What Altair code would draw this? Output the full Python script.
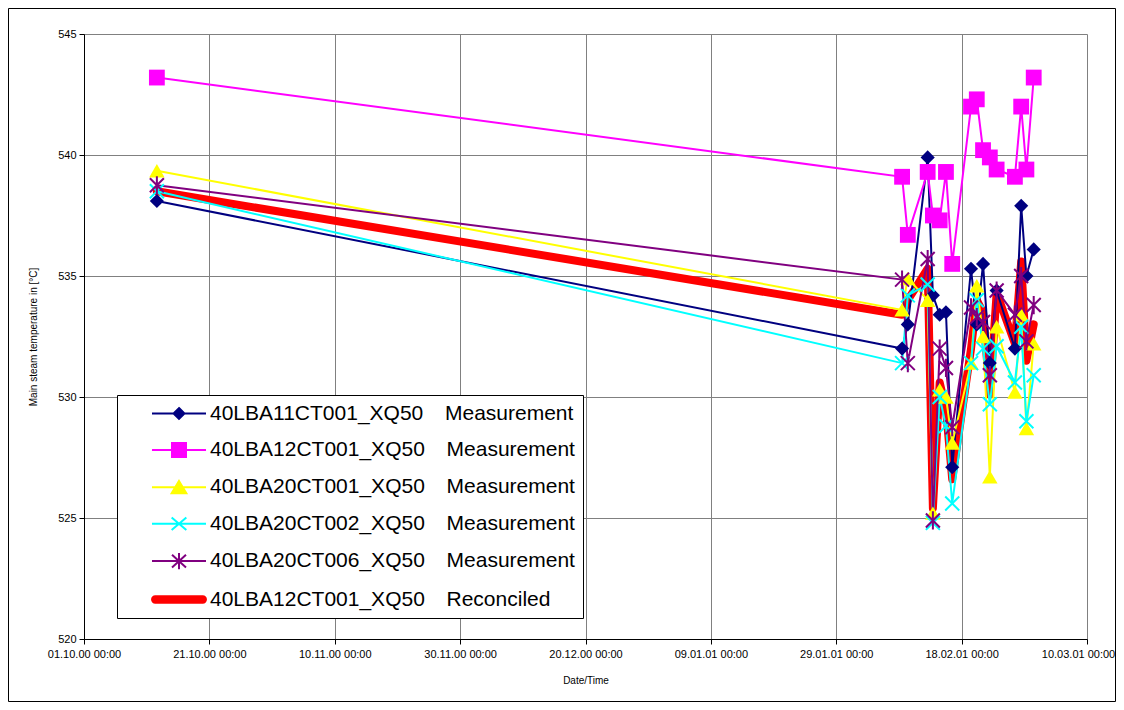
import altair as alt
import pandas as pd

# ---------------- data ----------------
times = [
    "2000-10-12T15:00:00", "2001-02-08T12:00:00", "2001-02-09T10:00:00",
    "2001-02-12T14:00:00", "2001-02-13T10:00:00", "2001-02-14T12:00:00",
    "2001-02-15T12:00:00", "2001-02-16T12:00:00", "2001-02-19T12:00:00",
    "2001-02-20T10:00:00", "2001-02-21T10:00:00", "2001-02-22T12:00:00",
    "2001-02-23T14:00:00", "2001-02-26T12:00:00", "2001-02-27T12:00:00",
    "2001-02-28T08:00:00", "2001-03-01T12:00:00",
]

GAP = "\u00a0\u00a0\u00a0\u2009"
series_names = [
    "40LBA11CT001_XQ50" + GAP + "Measurement",
    "40LBA12CT001_XQ50" + GAP + "Measurement",
    "40LBA20CT001_XQ50" + GAP + "Measurement",
    "40LBA20CT002_XQ50" + GAP + "Measurement",
    "40LBA20CT006_XQ50" + GAP + "Measurement",
    "40LBA12CT001_XQ50" + GAP + "Reconciled",
]
series_colors = ["#000080", "#FF00FF", "#FFFF00", "#00FFFF", "#800080", "#FF0000"]

lba11ct001 = [538.1, 532.0, 533.0, 539.9, 534.2, 533.4, 533.5, 527.1, 535.3,
              533.0, 535.5, 531.4, 534.4, 532.0, 537.9, 535.0, 536.1]
lba12ct001 = [543.2, 539.1, 536.7, 539.3, 537.5, 537.3, 539.3, 535.5, 542.0,
              542.3, 540.2, 539.9, 539.4, 539.1, 542.0, 539.4, 543.2]
lba20ct001 = [539.35, 533.6, 534.9, 534.0, 525.2, 530.3, 530.0, 528.1, 531.4,
              534.6, 532.5, 526.7, 532.9, 530.2, 533.4, 528.7, 532.2]
lba20ct002 = [538.5, 531.4, 534.2, 534.65, 524.8, 530.0, 528.8, 525.6, 531.4,
              534.0, 532.0, 529.7, 532.1, 530.6, 532.9, 529.0, 530.9]
lba20ct006 = [538.75, 534.85, 531.4, 535.7, 524.9, 532.0, 531.2, 528.75, 533.7,
              533.3, 533.1, 530.9, 534.4, 533.4, 535.0, 532.3, 533.8]
reconciled = [538.5, 533.4, 534.0, 535.3, 525.4, 530.6, 529.5, 526.6, 532.0,
              534.0, 533.5, 530.1, 534.3, 532.2, 535.6, 531.5, 533.0]

all_values = [lba11ct001, lba12ct001, lba20ct001, lba20ct002, lba20ct006, reconciled]

y_ticks = [520, 525, 530, 535, 540, 545]
x_tick_days = [(2000, 10, 1), (2000, 10, 21), (2000, 11, 10), (2000, 11, 30),
               (2000, 12, 20), (2001, 1, 9), (2001, 1, 29), (2001, 2, 18),
               (2001, 3, 10)]

# ---------------- table ----------------
rows = []
for name, vals in zip(series_names, all_values):
    for t, v in zip(times, vals):
        rows.append({"series": name, "time": t, "value": v})
df = pd.DataFrame(rows)

W, H = 1003, 605
FONT = "Liberation Sans"

x_enc = alt.X(
    "time:T",
    scale=alt.Scale(domain=[alt.DateTime(year=2000, month=10, date=1),
                            alt.DateTime(year=2001, month=3, date=10)], nice=False),
    axis=alt.Axis(
        values=[alt.DateTime(year=a, month=b, date=c) for a, b, c in x_tick_days],
        format="%d.%m.%y %H:%M", title="Date/Time",
        grid=True, gridColor="#808080", gridWidth=1,
        domainColor="black", tickColor="black", tickSize=5,
        labelFontSize=11, labelColor="black", labelPadding=4,
        labelFlush=False, labelOverlap=False,
        labelOffset={"condition": {"test": "datum.index == 1", "value": -9}, "value": 0},
        titleFontSize=10, titleFontWeight="normal", titleColor="black",
        titleX=W / 2, titleY=41, titleBaseline="middle",
    ),
)
y_enc = alt.Y(
    "value:Q",
    scale=alt.Scale(domain=[520, 545], nice=False, zero=False),
    axis=alt.Axis(
        values=y_ticks, title="Main steam temperature in [°C]",
        grid=True, gridColor="#808080", gridWidth=1,
        domainColor="black", tickColor="black", tickSize=5,
        labelFontSize=11, labelColor="black", labelPadding=3,
        titleFontSize=10, titleFontWeight="normal", titleColor="black",
        titleX=-51, titleY=H / 2, titleBaseline="middle", titleAlign="center",
    ),
)

base = alt.Chart(df)

red_line = base.transform_filter(
    alt.datum.series == series_names[5]
).mark_line(color="#FF0000", strokeWidth=8, strokeJoin="round", strokeCap="round").encode(
    x=x_enc, y=y_enc
)

meas_lines = base.transform_filter(
    alt.datum.series != series_names[5]
).mark_line(strokeWidth=2).encode(
    x=x_enc, y=y_enc,
    color=alt.Color("series:N", scale=alt.Scale(domain=series_names[:5], range=series_colors[:5]),
                    legend=None),
)

X_PATH = "M-1,-1L1,1M-1,1L1,-1"
STAR_PATH = "M-1,-1L1,1M-1,1L1,-1M0,-1.3L0,1.3"

point_specs = [
    (series_names[0], dict(shape="diamond", filled=True, size=200, color=series_colors[0])),
    (series_names[1], dict(shape="square", filled=True, size=250, color=series_colors[1])),
    (series_names[2], dict(shape="triangle-up", filled=True, size=240, color=series_colors[2])),
    (series_names[3], dict(shape=X_PATH, filled=False, size=196, color=series_colors[3], strokeWidth=2)),
    (series_names[4], dict(shape=STAR_PATH, filled=False, size=196, color=series_colors[4], strokeWidth=2)),
]
point_layers = [
    base.transform_filter(alt.datum.series == nm).mark_point(opacity=1, **kw).encode(x=x_enc, y=y_enc)
    for nm, kw in point_specs
]

# legend symbols: line + marker (unit = sqrt(symbolSize)/2 = 7 px)
L = "M-3.86,0H3.86"
legend_paths = [
    L + "M0,-0.78L0.78,0L0,0.78L-0.78,0Z",
    L + "M-1,-1H1V1H-1Z",
    L + "M0,-0.9L1.05,0.85L-1.05,0.85Z",
    L + "M-1.05,-0.9L1.05,0.9M-1.05,0.9L1.05,-0.9",
    L + "M-1,-0.9L1,0.9M-1,0.9L1,-0.9M0,-1.15L0,1.15",
    "M-3.4,-0.45H3.4A0.45,0.45 0 0 1 3.4,0.45H-3.4A0.45,0.45 0 0 1 -3.4,-0.45Z",
]
leg = alt.Legend(title=None)
legend_layer = base.transform_filter("false").mark_point(opacity=1).encode(
    fill=alt.Fill("series:N", scale=alt.Scale(domain=series_names, range=series_colors), legend=leg),
    stroke=alt.Stroke("series:N", scale=alt.Scale(domain=series_names, range=series_colors), legend=leg),
    shape=alt.Shape("series:N", scale=alt.Scale(domain=series_names, range=legend_paths), legend=leg),
)

frame = alt.Chart(pd.DataFrame({"k": [0]})).mark_rect(
    fillOpacity=0, stroke="black", strokeWidth=1
).encode(
    x=alt.value(-75.5), x2=alt.value(W + 28.5), y=alt.value(-25.5), y2=alt.value(H + 62.5)
)

chart = alt.layer(
    frame, red_line, meas_lines, *point_layers, legend_layer
).properties(
    width=W, height=H,
    padding={"left": 76, "top": 26, "right": 29, "bottom": 63},
    autosize=alt.AutoSizeParams(type="none"),
).configure(
    font=FONT, background="white",
).configure_view(
    stroke=None,
).configure_legend(
    orient="none", legendX=33, legendY=361, padding=8,
    strokeColor="black", fillColor="white", strokeWidth=1,
    symbolSize=196, symbolStrokeWidth=2, symbolOffset=43.5,
    labelOffset=20.5, labelFontSize=21, labelFont=FONT, labelColor="black",
    labelLimit=1000, rowPadding=14.4,
)

chart.save("out.html", embed_options={"renderer": "svg", "actions": False})
